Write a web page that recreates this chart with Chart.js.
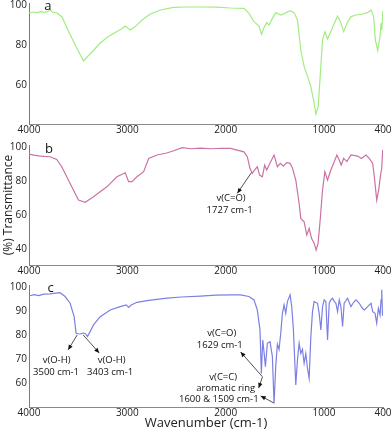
<!DOCTYPE html>
<html><head><meta charset="utf-8">
<script src="https://cdn.jsdelivr.net/npm/chart.js@4/dist/chart.umd.min.js"></script>
<style>
html,body{margin:0;padding:0;background:#fff;}
#wrap{position:relative;width:392px;height:431px;overflow:hidden;}
.p{position:absolute;left:0;width:392px;}
canvas{display:block;}
</style></head><body>
<div id="wrap">
<div class="p" style="top:0;height:140px"><canvas id="ca" width="392" height="140"></canvas></div>
<div class="p" style="top:140px;height:140px"><canvas id="cb" width="392" height="140"></canvas></div>
<div class="p" style="top:280px;height:151px"><canvas id="cc" width="392" height="151"></canvas></div>
</div>
<script>
// ---- tick labels ----
const xTickValues = [4000, 3000, 2000, 1000, 400];
const yTicksA = [60, 80, 100];
const yTicksB = [40, 60, 80, 100];
const yTicksC = [60, 70, 80, 90, 100];

// ---- series a (wavenumber, % transmittance) ----
const wnA = [
  4000, 3960, 3920, 3880, 3840, 3800, 3786, 3760, 3715, 3664,
  3600, 3530, 3446, 3400, 3340, 3276, 3200, 3106, 3060, 3021,
  2970, 2919, 2850, 2766, 2664, 2530, 2400, 2256, 2100, 1950,
  1814, 1763, 1712, 1661, 1634, 1610, 1583, 1560, 1525, 1491,
  1440, 1400, 1345, 1304, 1270, 1236, 1202, 1161, 1134, 1106,
  1083, 1059, 1039, 1015, 991, 964, 930, 896, 862, 835,
  800, 767, 726, 675, 607, 556, 522, 495, 478, 454,
  430, 420, 412, 402];
const tA = [
  96, 96.5, 96.2, 96.7, 96.3, 97, 97.6, 96.4, 96, 94,
  87, 80, 72, 74.5, 77.5, 81, 84, 86.7, 88, 89.5,
  87.5, 89.2, 92.5, 95.5, 97.5, 98.8, 99, 99, 98.9, 98.5,
  98.3, 95.8, 91.7, 89.5, 85.3, 88.8, 91.2, 90, 93.3, 96.2,
  95, 95.8, 97.2, 96.2, 92.5, 77.5, 69.2, 63.3, 59.2, 52.5,
  45.5, 49.2, 64.2, 82.5, 86.7, 83, 86.7, 90.8, 94.5, 92,
  86.7, 90.8, 94.2, 95, 95.5, 96.2, 97.5, 94.2, 82.5, 77.2,
  84.2, 90.8, 87.5, 97];

// ---- series b ----
const wnB = [
  4000, 3950, 3900, 3850, 3786, 3718, 3667, 3582, 3497, 3429,
  3344, 3208, 3106, 3021, 2987, 2953, 2902, 2834, 2783, 2698,
  2600, 2528, 2443, 2350, 2256, 2150, 2050, 1950, 1814, 1780,
  1753, 1729, 1705, 1678, 1655, 1627, 1603, 1583, 1542, 1508,
  1474, 1445, 1413, 1380, 1345, 1320, 1287, 1253, 1236, 1202,
  1175, 1151, 1127, 1100, 1080, 1060, 1039, 1015, 991, 964,
  930, 896, 869, 845, 825, 800, 767, 726, 658, 620,
  573, 540, 505, 488, 464, 444, 425, 413, 403];
const tB = [
  95.9, 95.2, 94.8, 94.5, 94.3, 92.7, 88.4, 78.6, 68.8, 67.5,
  70.8, 76.6, 82.5, 84.9, 79.6, 79.6, 82.5, 85.5, 93.3, 95.3,
  96.5, 97.8, 99.6, 99, 99.4, 99, 99.3, 99.2, 97.2, 94.3,
  87.5, 84.5, 86.5, 88.4, 83.5, 82.5, 89.4, 86.5, 91.4, 95.3,
  88.4, 90.4, 88.8, 90.8, 90.4, 87.5, 80.6, 66.9, 58, 56,
  48.2, 52.2, 46.3, 43.4, 39.4, 43.4, 57, 74.7, 85.5, 80.6,
  86.5, 91.4, 95.3, 92.4, 89.4, 93.3, 91.4, 95.3, 94.7, 93.3,
  95.3, 93.3, 90.4, 82.5, 68.8, 74.7, 83.5, 87.5, 98.2];

// ---- series c ----
const wnC = [
  4000, 3950, 3900, 3850, 3786, 3730, 3684, 3633, 3582, 3541,
  3521, 3500, 3480, 3449, 3425, 3405, 3344, 3276, 3174, 3072,
  3011, 2987, 2960, 2902, 2800, 2700, 2596, 2450, 2256, 2100,
  1950, 1850, 1763, 1712, 1678, 1651, 1637, 1623, 1610, 1596,
  1576, 1549, 1525, 1508, 1491, 1474, 1457, 1440, 1423, 1406,
  1389, 1372, 1345, 1328, 1311, 1287, 1270, 1253, 1236, 1219,
  1202, 1185, 1168, 1151, 1134, 1117, 1100, 1083, 1066, 1049,
  1032, 1015, 998, 981, 964, 947, 930, 913, 896, 879,
  862, 845, 828, 811, 795, 760, 726, 700, 675, 641,
  610, 590, 556, 522, 505, 481, 464, 447, 430, 420,
  413, 405];
const tC = [
  96.2, 96.8, 96.4, 97, 97.1, 97.4, 97.6, 96, 93.2, 87.6,
  80.7, 80.5, 80.4, 80.8, 80.5, 79.3, 84.2, 87.6, 90.4, 91.8,
  92.5, 91.5, 92.5, 93.6, 94.3, 94.8, 95.3, 95.8, 96.2, 96.6,
  96.7, 96.7, 96, 94.6, 90.4, 82.1, 64, 77.9, 73, 66.8,
  76.5, 77.2, 71, 51.5, 66.8, 76.2, 74, 80.7, 89, 92.5,
  89, 93.9, 96.7, 91.8, 82.1, 59.2, 69.6, 76.5, 72.3, 74,
  68.2, 72.3, 66.1, 62, 79.3, 89.7, 93.9, 93.5, 93.2, 89,
  82.1, 91.8, 94.6, 93.9, 77.9, 93.2, 94.6, 95.3, 94, 93.2,
  89.7, 94.6, 91.8, 83.5, 93.2, 95.3, 91.8, 93.5, 94.6, 93.2,
  91.1, 90.4, 91.8, 93.2, 89.7, 89, 84.9, 91.1, 88.3, 94.6,
  98.8, 88];

// ---- annotations (anchored in data space) ----
const notesA = [{wn: 3809, t: 99.5, text: 'a', size: 13}];
const arrowsA = [];
const notesB = [
  {wn: 3796, t: 98.5, text: 'b', size: 13},
  {wn: 1945, t: 70.1, text: 'v(C=O)'},
  {wn: 1960, t: 62.8, text: '1727 cm-1'}
];
const arrowsB = [{wn1: 1739, t1: 84.9, wn2: 1881, t2: 72.8}];
const notesC = [
  {wn: 3779, t: 99.6, text: 'c', size: 13},
  {wn: 3720, t: 69.6, text: 'v(O-H)'},
  {wn: 3725, t: 64.6, text: '3500 cm-1'},
  {wn: 3160, t: 69.6, text: 'v(O-H)'},
  {wn: 3175, t: 64.6, text: '3403 cm-1'},
  {wn: 2040, t: 80.7, text: 'v(C=O)'},
  {wn: 2060, t: 75.8, text: '1629 cm-1'},
  {wn: 2025, t: 62.5, text: 'v(C=C)'},
  {wn: 2000, t: 57.9, text: 'aromatic ring'},
  {wn: 2070, t: 53, text: '1600 & 1509 cm-1'}
];
const arrowsC = [
  {wn1: 3510, t1: 80, wn2: 3602, t2: 73.8},
  {wn1: 3449, t1: 80, wn2: 3286, t2: 72.5},
  {wn1: 1626, t1: 62.6, wn2: 1848, t2: 72.9},
  {wn1: 1626, t1: 62.5, wn2: 1664, t2: 57.9},
  {wn1: 1511, t1: 51.7, wn2: 1644, t2: 54.6}
];

const FONT = '"Open Sans", "Liberation Sans", sans-serif';

function notesPlugin(texts, arrows) {
  return {
    id: 'notes',
    afterDatasetsDraw(chart) {
      const {ctx} = chart;
      const x = chart.scales.x, y = chart.scales.y;
      ctx.save();
      ctx.fillStyle = '#111';
      ctx.strokeStyle = '#222';
      ctx.textAlign = 'center';
      ctx.textBaseline = 'middle';
      texts.forEach(n => {
        ctx.font = (n.size || 9.5) + 'px ' + FONT;
        ctx.fillText(n.text, x.getPixelForValue(n.wn), y.getPixelForValue(n.t));
      });
      arrows.forEach(a => {
        const x1 = x.getPixelForValue(a.wn1), y1 = y.getPixelForValue(a.t1);
        const x2 = x.getPixelForValue(a.wn2), y2 = y.getPixelForValue(a.t2);
        ctx.lineWidth = 0.8;
        ctx.beginPath(); ctx.moveTo(x1, y1); ctx.lineTo(x2, y2); ctx.stroke();
        const ang = Math.atan2(y2 - y1, x2 - x1), L = 5, W = 2.2;
        const c = Math.cos(ang), s = Math.sin(ang);
        ctx.beginPath();
        ctx.moveTo(x2, y2);
        ctx.lineTo(x2 - L * c + W * s, y2 - L * s - W * c);
        ctx.lineTo(x2 - L * c - W * s, y2 - L * s + W * c);
        ctx.closePath(); ctx.fill();
      });
      ctx.restore();
    }
  };
}

function makePanel(id, wn, t, color, yMin, yMax, yTicks, padTop, xAxisH, texts, arrows, yTitle, xTitle) {
  const data = wn.map((w, i) => ({x: w, y: t[i]}));
  return new Chart(document.getElementById(id), {
    type: 'line',
    data: {datasets: [{data, borderColor: color, borderWidth: 1.2, pointRadius: 0, tension: 0, fill: false}]},
    options: {
      responsive: false,
      animation: false,
      layout: {padding: {left: 0, right: 9, top: padTop, bottom: 0}},
      plugins: {legend: {display: false}, tooltip: {enabled: false}},
      scales: {
        x: {
          type: 'linear', reverse: true, min: 400, max: 4000,
          afterBuildTicks: s => { s.ticks = xTickValues.map(v => ({value: v})); },
          afterFit: s => { s.height = xAxisH; s.paddingLeft = 0; s.paddingRight = 0; },
          ticks: {autoSkip: false, maxRotation: 0, minRotation: 0, padding: 0, color: '#222',
                  font: {family: FONT, size: 10}, callback: v => String(v)},
          grid: {display: false, drawTicks: false},
          border: {display: true, color: '#8a8a8a', width: 1},
          title: xTitle ? {display: true, text: xTitle, color: '#222',
                           font: {family: FONT, size: 13}, padding: {top: 0, bottom: 0}} : {display: false}
        },
        y: {
          type: 'linear', min: yMin, max: yMax,
          afterBuildTicks: s => { s.ticks = yTicks.map(v => ({value: v})); },
          afterFit: s => { s.width = 29; s.paddingTop = 0; s.paddingBottom = 0; },
          ticks: {autoSkip: false, padding: 2, color: '#222', font: {family: FONT, size: 10}},
          grid: {display: false, drawTicks: false},
          border: {display: true, color: '#7a7a7a', width: 1},
          title: yTitle ? {display: true, text: yTitle, color: '#222',
                           font: {family: FONT, size: 12}, padding: {top: 1.5, bottom: 0}} : {display: false}
        }
      }
    },
    plugins: [notesPlugin(texts, arrows)]
  });
}

makePanel('ca', wnA, tA, '#a2ec80', 40.5, 101, yTicksA, 3, 16, notesA, arrowsA, null, null);
makePanel('cb', wnB, tB, '#cb72a3', 30.6, 101.2, yTicksB, 5, 15, notesB, arrowsB, '(%) Transmittance', null);
makePanel('cc', wnC, tC, '#7b80e2', 50, 100.8, yTicksC, 5, 24, notesC, arrowsC, null, 'Wavenumber (cm-1)');
</script>
</body></html>
